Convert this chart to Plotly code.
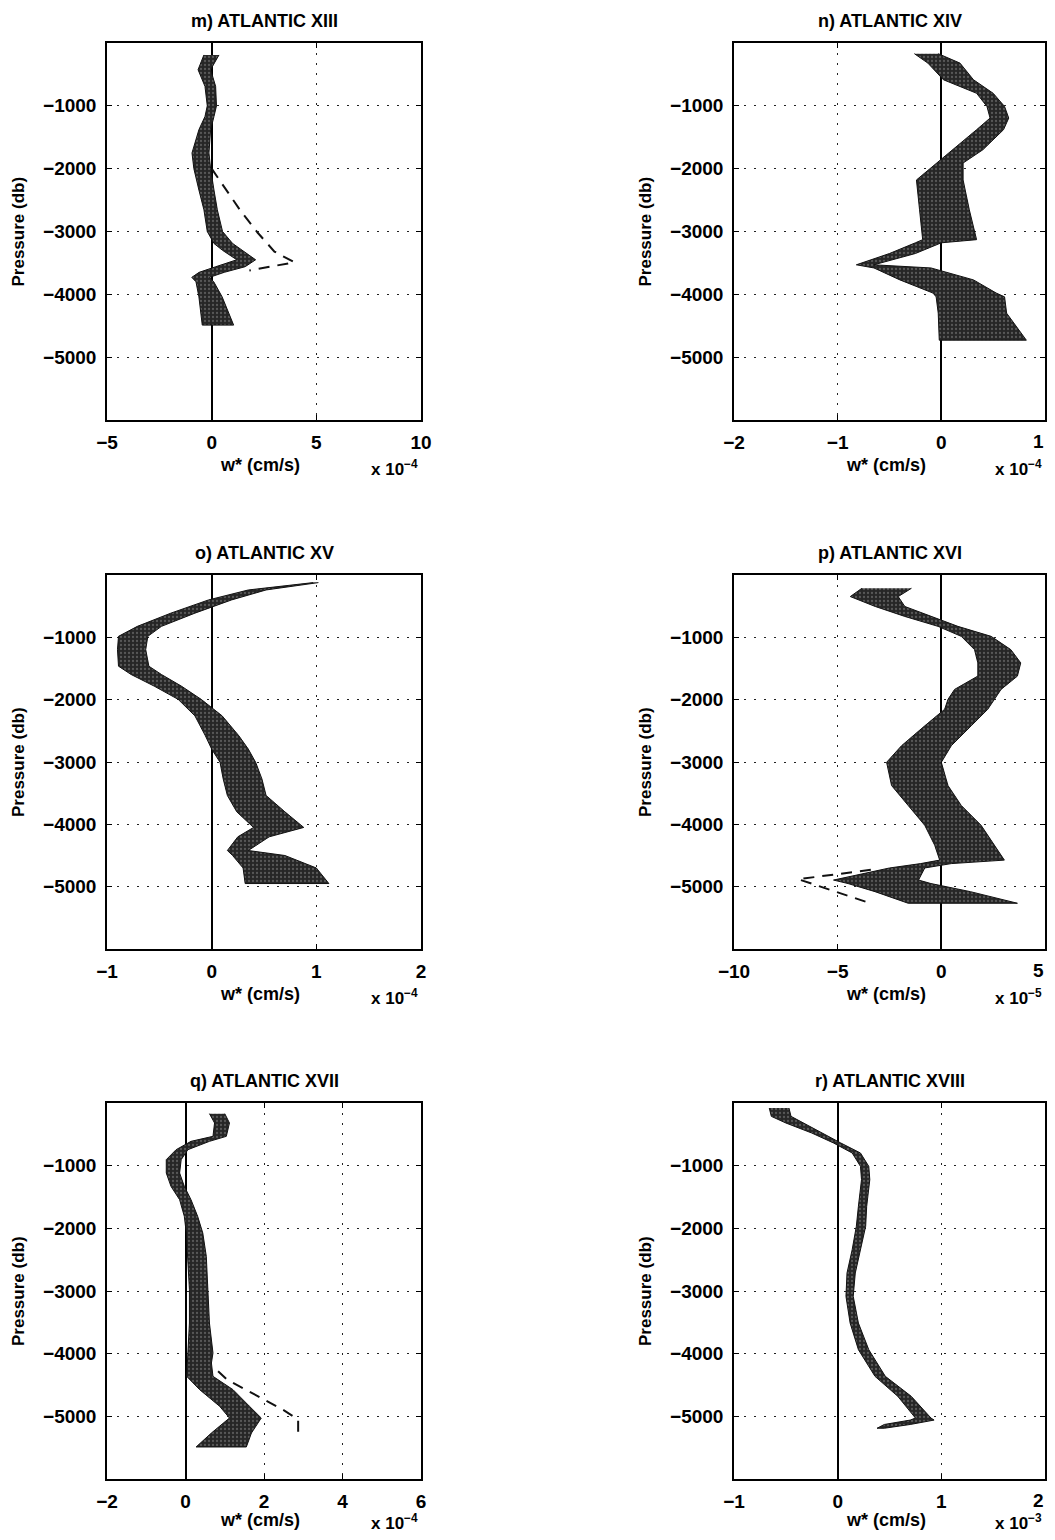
import plotly.graph_objects as go

# page body has an 8px margin: positions are shifted by -8px and the figure kept inside the window
PAGE_W, PAGE_H = 1055, 1540
OFF = 8
W, H = PAGE_W - OFF, PAGE_H - 2 * OFF
VISIBLE_RIGHT = 1046  # right-most page pixel that stays visible

# ---------------- data (w* in units of the panel multiplier, pressure in db) ----------------
titles = ["m) ATLANTIC XIII", "n) ATLANTIC XIV", "o) ATLANTIC XV",
          "p) ATLANTIC XVI", "q) ATLANTIC XVII", "r) ATLANTIC XVIII"]
multipliers = ["\u22124", "\u22124", "\u22124", "\u22125", "\u22124", "\u22123"]
x_ranges = [[-5, 10], [-2, 1], [-1, 2], [-10, 5], [-2, 6], [-1, 2]]
x_ticks = [[-5, 0, 5, 10], [-2, -1, 0, 1], [-1, 0, 1, 2], [-10, -5, 0, 5],
           [-2, 0, 2, 4, 6], [-1, 0, 1, 2]]
y_ticks = [-5000, -4000, -3000, -2000, -1000]

# m) ATLANTIC XIII
P_m = [-190, -425, -690, -1000, -1170, -1380, -1750, -2000, -2340, -2655, -3000,
       -3190, -3300, -3450, -3560, -3650, -3730, -3800, -4040, -4490]
L_m = [-0.37, -0.65, -0.32, -0.21, -0.32, -0.61, -0.94, -0.85, -0.61, -0.37, -0.21,
       0.11, 0.52, 1.20, 0.20, -0.60, -0.95, -0.75, -0.61, -0.45]
R_m = [0.35, -0.05, 0.19, 0.23, 0.11, -0.05, -0.13, -0.05, 0.11, 0.27, 0.52,
       1.00, 1.48, 2.10, 1.60, 0.60, -0.10, 0.10, 0.50, 1.05]
DX_m = [0.0, 0.6, 1.4, 2.2, 3.0, 3.95, 1.8]
DP_m = [-2000, -2300, -2680, -3020, -3320, -3490, -3620]

# n) ATLANTIC XIV
P_n = [-170, -320, -585, -800, -1010, -1195, -1380, -1700, -1910, -2180, -2655,
       -3130, -3180, -3350, -3530, -3580, -3770, -3980, -4040, -4300, -4730]
L_n = [-0.26, -0.13, 0.02, 0.34, 0.44, 0.47, 0.34, 0.11, -0.05, -0.24, -0.21,
       -0.18, -0.25, -0.50, -0.82, -0.65, -0.40, -0.08, -0.05, -0.03, -0.02]
R_n = [-0.03, 0.18, 0.31, 0.50, 0.61, 0.65, 0.60, 0.40, 0.21, 0.21, 0.27,
       0.34, 0.00, -0.25, -0.65, -0.10, 0.31, 0.53, 0.61, 0.63, 0.82]
DX_n = []
DP_n = []

# o) ATLANTIC XV
P_o = [-122, -240, -400, -612, -824, -984, -1197, -1463, -1596, -1782, -1995, -2260,
       -2580, -2793, -3005, -3271, -3537, -3800, -4050, -4200, -4420, -4500, -4700, -4950]
L_o = [0.97, 0.35, -0.03, -0.39, -0.71, -0.89, -0.90, -0.89, -0.77, -0.55, -0.32, -0.16,
       -0.06, 0.00, 0.08, 0.11, 0.15, 0.24, 0.40, 0.25, 0.15, 0.20, 0.30, 0.32]
R_o = [1.02, 0.52, 0.19, -0.16, -0.48, -0.61, -0.63, -0.60, -0.48, -0.29, -0.10, 0.10,
       0.26, 0.35, 0.42, 0.48, 0.52, 0.70, 0.88, 0.55, 0.35, 0.70, 1.00, 1.12]
DX_o = []
DP_o = []

# p) ATLANTIC XVI
P_p = [-213, -346, -505, -665, -824, -984, -1197, -1410, -1622, -1835, -1995, -2154,
       -2420, -2739, -3005, -3378, -3697, -4016, -4335, -4574, -4630, -4700, -4894,
       -4950, -5080, -5266]
L_p = [-3.83, -4.39, -3.19, -1.76, -0.16, 0.96, 1.60, 1.76, 1.76, 0.64, 0.32, 0.16,
       -0.80, -1.92, -2.64, -2.40, -1.60, -0.80, -0.32, -0.08, -1.00, -2.50, -5.20,
       -4.50, -3.20, -1.60]
R_p = [-1.44, -2.08, -1.76, -0.48, 0.80, 2.40, 3.35, 3.83, 3.67, 2.88, 2.56, 2.24,
       1.44, 0.48, 0.00, 0.32, 0.96, 1.92, 2.56, 3.04, 0.48, -0.80, -1.10,
       -0.50, 1.40, 3.67]
DX_p = [-3.4, -6.9, -3.3]
DP_p = [-4730, -4880, -5280]

# q) ATLANTIC XVII
P_q = [-170, -319, -532, -612, -745, -904, -1117, -1330, -1543, -1809, -2074, -2447,
       -2979, -3511, -3989, -4149, -4362, -4574, -4840, -5027, -5266, -5489]
L_q = [0.61, 0.74, 0.70, 0.14, -0.24, -0.49, -0.49, -0.37, -0.15, -0.03, 0.02, 0.06,
       0.10, 0.10, 0.06, 0.03, 0.03, 0.36, 0.87, 1.12, 0.66, 0.27]
R_q = [1.00, 1.12, 1.04, 0.61, 0.06, -0.11, -0.15, -0.03, 0.14, 0.31, 0.44, 0.53,
       0.57, 0.61, 0.70, 0.66, 0.70, 1.21, 1.63, 1.93, 1.68, 1.55]
DX_q = [0.83, 1.05, 2.5, 2.87, 2.87]
DP_q = [-4282, -4410, -4900, -5050, -5270]

# r) ATLANTIC XVIII
P_r = [-80, -213, -319, -479, -638, -798, -1011, -1223, -1649, -1968, -2340, -2713,
       -3085, -3511, -3936, -4362, -4681, -5027, -5060, -5130, -5190]
L_r = [-0.66, -0.64, -0.50, -0.25, -0.04, 0.14, 0.22, 0.23, 0.20, 0.18, 0.14, 0.09,
       0.08, 0.12, 0.20, 0.36, 0.58, 0.75, 0.70, 0.45, 0.38]
R_r = [-0.47, -0.45, -0.34, -0.15, 0.03, 0.22, 0.30, 0.31, 0.28, 0.27, 0.22, 0.17,
       0.15, 0.20, 0.30, 0.46, 0.71, 0.90, 0.93, 0.70, 0.45]
DX_r = []
DP_r = []

bands = [(P_m, L_m, R_m), (P_n, L_n, R_n), (P_o, L_o, R_o),
         (P_p, L_p, R_p), (P_q, L_q, R_q), (P_r, L_r, R_r)]
dashes = [(DX_m, DP_m), (DX_n, DP_n), (DX_o, DP_o),
          (DX_p, DP_p), (DX_q, DP_q), (DX_r, DP_r)]

# ---------------- layout geometry (page pixels) ----------------
col_px = [(107, 421), (734, 1045)]
row_px = [(43, 420), (575, 949), (1103, 1479)]
xlab_gap = [(45, 48), (45, 48), (41, 43)]
ylab_px = [18, 645]


def fx(px):
    return (px - OFF) / W


def fy(py):
    return 1 - (py - OFF) / H


def fmt(v):
    return ("\u2212" + str(abs(v))) if v < 0 else str(v)


FONT = "Liberation Sans, Arial, Helvetica, sans-serif"
TXT = dict(family=FONT, size=19, color="black", weight="bold")

fig = go.Figure()
annotations = []
layout_axes = {}

for i in range(6):
    r, c = divmod(i, 2)
    x0, x1 = col_px[c]
    top, bot = row_px[r]
    ax = "" if i == 0 else str(i + 1)
    xa, ya = "x" + ax, "y" + ax

    P, L, R = bands[i]
    fig.add_trace(go.Scatter(
        x=list(L) + list(R)[::-1], y=list(P) + list(P)[::-1],
        xaxis=xa, yaxis=ya, mode="lines", fill="toself",
        fillcolor="#2e2e2e",
        fillpattern=dict(shape=".", fgcolor="#8a8a8a", bgcolor="#262626",
                         size=4, solidity=0.25),
        line=dict(color="#111111", width=1), hoverinfo="skip", showlegend=False))
    DX, DP = dashes[i]
    if DX:
        fig.add_trace(go.Scatter(
            x=DX, y=DP, xaxis=xa, yaxis=ya, mode="lines",
            line=dict(color="#111111", width=2, dash="11px,8px"),
            hoverinfo="skip", showlegend=False))

    # tick labels; for the right column the last label sits at the window edge and is
    # drawn as a right-anchored annotation so that it stays fully visible
    ticktext = [fmt(v) for v in x_ticks[i]]
    if c == 1:
        last = ticktext[-1]
        ticktext[-1] = ""
        annotations.append(dict(text=last, x=fx(VISIBLE_RIGHT), y=fy(bot + 21),
                                xref="paper", yref="paper", showarrow=False,
                                xanchor="right", yanchor="middle", font=TXT))

    common = dict(showline=True, linecolor="black", linewidth=1.5, mirror="ticks",
                  ticks="inside", ticklen=5, tickwidth=1, tickcolor="black",
                  showgrid=True, gridcolor="#222222", gridwidth=1, griddash="1.5px,8.5px",
                  tickfont=TXT, automargin=False)
    layout_axes["xaxis" + ax] = dict(
        common, domain=[fx(x0), fx(x1)], anchor=ya, range=x_ranges[i],
        tickvals=x_ticks[i], ticktext=ticktext, zeroline=True, zerolinecolor="black",
        zerolinewidth=1.5, ticklabelstandoff=4)
    layout_axes["yaxis" + ax] = dict(
        common, domain=[fy(bot), fy(top)], anchor=xa, range=[-6000, 0],
        tickvals=y_ticks, zeroline=False, ticklabelstandoff=5)

    g1, g2 = xlab_gap[r]
    cx = fx((x0 + x1) / 2)
    annotations.append(dict(text=titles[i], x=cx, y=fy(top - 22), xref="paper",
                            yref="paper", showarrow=False, xanchor="center", yanchor="middle",
                            font=dict(TXT, size=18)))
    annotations.append(dict(text="w* (cm/s)", x=fx((x0 + x1) / 2 - 4), y=fy(bot + g1),
                            xref="paper", yref="paper", showarrow=False,
                            xanchor="center", yanchor="middle", font=dict(TXT, size=18)))
    annotations.append(dict(text="x 10<sup>" + multipliers[i] + "</sup>",
                            x=fx(x1 - 27), y=fy(bot + g2), xref="paper",
                            yref="paper", showarrow=False, xanchor="center", yanchor="middle",
                            font=dict(TXT, size=17)))
    annotations.append(dict(text="Pressure (db)", x=fx(ylab_px[c]), y=fy((top + bot) / 2),
                            xref="paper", yref="paper", showarrow=False, textangle=-90,
                            xanchor="center", yanchor="middle", font=dict(TXT, size=17)))

fig.update_layout(width=W, height=H, margin=dict(l=0, r=0, t=0, b=0, autoexpand=False),
                  paper_bgcolor="white", plot_bgcolor="white",
                  annotations=annotations, showlegend=False, **layout_axes)

fig.write_html("out.html")
